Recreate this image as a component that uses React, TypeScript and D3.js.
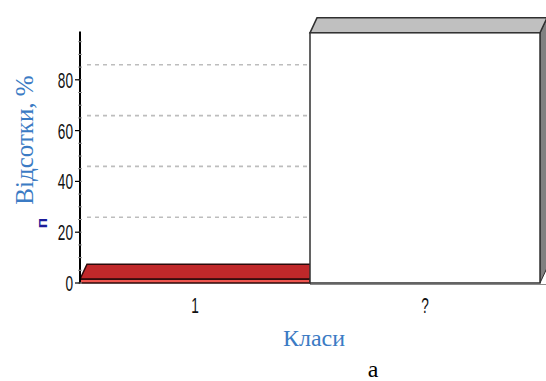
import React from "react";
import * as d3 from "d3";

const categories = ["1", "?"];
const values = [1.5, 98.5];
const yTicks = [0, 20, 40, 60, 80];
const gridValues = [20, 40, 60, 80];
const yTitle = "Відсотки, %";
const xTitle = "Класи";
const caption = "а";
const nLabel = "п";

const W = 546;
const H = 381;
const DX = 7;
const DY = -15;

const faceColors = [
  { front: "#ee5650", top: "#c0282a", side: "#8a1a1a", stroke: "#2a0a0a" },
  { front: "#ffffff", top: "#c0c0c0", side: "#808080", stroke: "#303030" },
];

export default function App() {
  const x = d3.scaleBand<string>().domain(categories).range([80, 540]).padding(0);
  const y = d3.scaleLinear().domain([0, 100]).range([283, 29]);
  const minor = d3.range(0, 100, 5);
  const narrow = "'Liberation Sans Narrow', 'Liberation Sans', Arial, sans-serif";
  const serif = "'Liberation Serif', 'Times New Roman', serif";

  return (
    <svg
      width={W}
      height={H}
      style={{ position: "absolute", left: 0, top: 0, background: "#fff" }}
    >
      {/* back wall grid */}
      {gridValues.map((v) => (
        <line
          key={"g" + v}
          x1={x.range()[0] + DX}
          x2={x.range()[1] + DX}
          y1={y(v) + DY}
          y2={y(v) + DY}
          stroke="#bdbdbd"
          strokeWidth={1.6}
          strokeDasharray="4,4"
        />
      ))}

      {/* bars */}
      {categories.map((c, i) => {
        const x0 = x(c)!;
        const x1 = x0 + x.bandwidth();
        const yT = y(values[i]);
        const yB = y(0);
        const col = faceColors[i];
        const top = `M${x0},${yT}L${x1},${yT}L${x1 + DX},${yT + DY}L${x0 + DX},${yT + DY}Z`;
        const side = `M${x1},${yT}L${x1 + DX},${yT + DY}L${x1 + DX},${yB + DY}L${x1},${yB}Z`;
        return (
          <g key={c}>
            <path d={side} fill={col.side} stroke={col.stroke} strokeWidth={1} />
            <path d={top} fill={col.top} stroke={col.stroke} strokeWidth={1.5} />
            <rect
              x={x0}
              y={yT}
              width={x1 - x0}
              height={yB - yT}
              fill={col.front}
              stroke={col.stroke}
              strokeWidth={1.5}
            />
          </g>
        );
      })}

      {/* baseline shadow */}
      <line x1={310} x2={546} y1={y(0) + 1.5} y2={y(0) + 1.5} stroke="#8a8a8a" strokeWidth={1} />

      {/* y axis */}
      <line x1={80} x2={80} y1={y(0)} y2={y(99)} stroke="#000" strokeWidth={2} />
      {minor.map((v) => (
        <line key={"m" + v} x1={78} x2={82} y1={y(v)} y2={y(v)} stroke="#9a9a9a" strokeWidth={1} />
      ))}
      {yTicks.map((v) => (
        <g key={"t" + v}>
          <line x1={75} x2={80} y1={y(v)} y2={y(v)} stroke="#000" strokeWidth={1.2} />
          <text
            transform={`translate(73,${y(v) + 8}) scale(0.62,1)`}
            textAnchor="end"
            fontFamily={narrow}
            fontSize={22}
            fill="#111"
          >
            {v}
          </text>
        </g>
      ))}

      {/* x labels */}
      {categories.map((c) => (
        <text
          key={"xl" + c}
          transform={`translate(${x(c)! + x.bandwidth() / 2},${313}) scale(0.62,1)`}
          textAnchor="middle"
          fontFamily={narrow}
          fontSize={22}
          fill="#111"
        >
          {c}
        </text>
      ))}

      {/* titles */}
      <text
        transform={`translate(33,140) rotate(-90)`}
        textAnchor="middle"
        fontFamily={serif}
        fontSize={25}
        fill="#3b7bc4"
      >
        {yTitle}
      </text>
      <text
        transform={`translate(47,223) rotate(-90) scale(1,0.8)`}
        textAnchor="middle"
        fontFamily="'Liberation Sans', Arial, sans-serif"
        fontWeight="bold"
        fontSize={18}
        fill="#1c1c9a"
      >
        {nLabel}
      </text>
      <text x={314} y={346} textAnchor="middle" fontFamily={serif} fontSize={24} fill="#3b7bc4">
        {xTitle}
      </text>
      <text x={373} y={377} textAnchor="middle" fontFamily={serif} fontSize={24} fill="#000">
        {caption}
      </text>
    </svg>
  );
}
